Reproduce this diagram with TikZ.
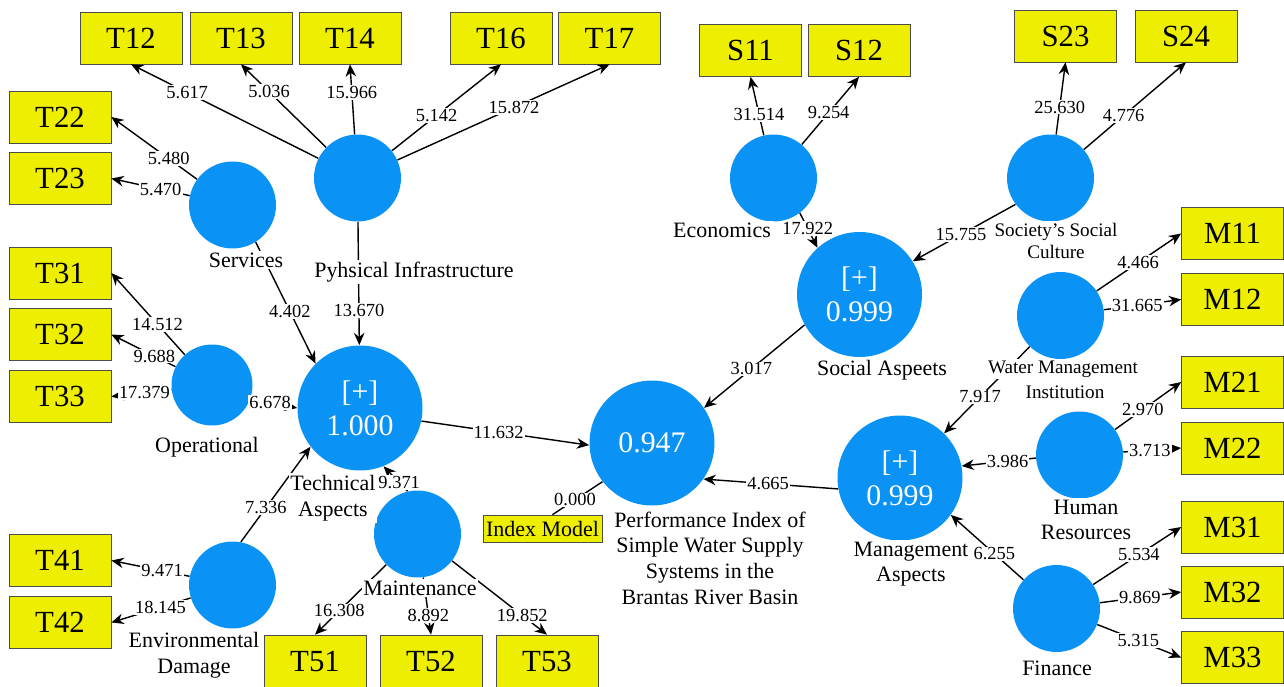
\documentclass[tikz,border=0pt]{standalone}
\usepackage{fontspec}
\setmainfont{Liberation Serif}
\usepackage{tikz}
\usetikzlibrary{arrows.meta}

\definecolor{plsblue}{RGB}{10,146,245}
\definecolor{plsyellow}{RGB}{238,238,0}

\begin{document}
\begin{tikzpicture}[
    x=0.02cm, y=-0.02cm,
    lv/.style={
      circle, fill=plsblue, inner sep=0pt,
      minimum size=1.74cm, text=white, align=center,
      font=\fontsize{17}{19.5}\selectfont},
    lvbig/.style={lv, minimum size=2.5cm},
    ind/.style={
      draw=gray!60!black, fill=plsyellow, inner sep=0pt,
      minimum width=2.04cm, minimum height=1.04cm,
      font=\fontsize{17.5}{20}\selectfont},
    arr/.style={-{Stealth[length=7pt, width=6pt]}, line width=0.8pt},
    val/.style={fill=white, inner sep=0.6pt,
                font=\fontsize{10.5}{12}\selectfont},
    lbl/.style={fill=white, inner sep=1pt, align=center,
                font=\fontsize{12.5}{14.6}\selectfont},
    lblsm/.style={lbl, font=\fontsize{10.9}{13}\selectfont},
]

\useasboundingbox (0, 0) rectangle (1284, 686);

% Column positions
\def\colL{60}
\def\colR{1232.5}

% --- Latent variables ---
\node[lv] (serv)  at (232.5, 205)   {};
\node[lv] (phys)  at (357.5, 178)   {};
\node[lv, minimum size=1.62cm] (oper) at (212, 385) {};
\node[lv] (env)   at (232.5, 585)   {};
\node[lv] (maint) at (417.5, 534)   {};
\node[lv] (econ)  at (773.5, 178)   {};
\node[lv] (soc)   at (1050.5, 178)  {};
\node[lv] (water) at (1060.5, 315.5) {};
\node[lv] (human) at (1079.5, 455)  {};
\node[lv] (fin)   at (1056.5, 608.5) {};

\node[lvbig] (tech)   at (360, 408)   {[+]\\1.000};
\node[lvbig] (social) at (859.5, 294.5) {[+]\\0.999};
\node[lvbig] (mgmt)   at (900, 478)   {[+]\\0.999};
\node[lvbig] (perf)   at (652, 443)   {0.947};

% --- Indicators ---
\node[ind] (t12) at (131, 38)   {T12};
\node[ind] (t13) at (241, 38)   {T13};
\node[ind] (t14) at (350, 38)   {T14};
\node[ind] (t16) at (501, 38)   {T16};
\node[ind] (t17) at (609.5, 38) {T17};
\node[ind] (t22) at (\colL, 117)   {T22};
\node[ind] (t23) at (\colL, 178.5) {T23};
\node[ind] (t31) at (\colL, 273)   {T31};
\node[ind] (t32) at (\colL, 334.5) {T32};
\node[ind] (t33) at (\colL, 396.5) {T33};
\node[ind] (t41) at (\colL, 560.5) {T41};
\node[ind] (t42) at (\colL, 622.5) {T42};
\node[ind] (t51) at (315, 661) {T51};
\node[ind] (t52) at (431, 661) {T52};
\node[ind] (t53) at (547, 661) {T53};
\node[ind] (s11) at (750.5, 50.5) {S11};
\node[ind] (s12) at (859, 50.5)   {S12};
\node[ind] (s23) at (1065.5, 36)  {S23};
\node[ind] (s24) at (1186, 36)    {S24};
\node[ind] (m11) at (\colR, 233.5) {M11};
\node[ind] (m12) at (\colR, 299.5) {M12};
\node[ind] (m21) at (\colR, 382)   {M21};
\node[ind] (m22) at (\colR, 448)   {M22};
\node[ind] (m31) at (\colR, 527)   {M31};
\node[ind] (m32) at (\colR, 592)   {M32};
\node[ind] (m33) at (\colR, 657.5) {M33};

\node[ind, minimum width=2.38cm, minimum height=0.54cm, inner sep=1pt,
      font=\fontsize{12.5}{14}\selectfont] (index) at (542.5, 528.5)
  {Index Model};
\coordinate (idx) at ([xshift=0.2cm]index.north);

% --- Outer loadings ---
\draw[arr] (phys) -- node[val, pos=.70] {5.617} (t12.south);
\draw[arr] (phys) -- node[val, pos=.67] {5.036} (t13.south);
\draw[arr] (phys) -- node[val, pos=.60] {15.966} (t14.south);
\draw[arr] (phys) -- node[val, pos=.41] {5.142} (t16.south);
\draw[arr] (phys) -- node[val, pos=.55] {15.872} (t17.south);

\draw[arr] (serv) -- node[val, pos=.33] {5.480} (t22.east);
\draw[arr] (serv) -- node[val, pos=.37] {5.470} (t23.east);

\draw[arr] (oper) -- node[val, pos=.37] {14.512} (t31.east);
\draw[arr] (oper) -- node[val, pos=.33] {9.688} (t32.east);
\draw[arr] (oper) -- node[val, pos=.45] {17.379} (t33.east);

\draw[arr] (env) -- node[val, pos=.35] {9.471} (t41.east);
\draw[arr] (env) -- node[val, pos=.38] {18.145} (t42.east);

\draw[arr] (maint) -- node[val, pos=.66] {16.308} (t51.north);
\draw[arr] (maint) -- node[val, pos=.66] {8.892} (t52.north);
\draw[arr] (maint) -- node[val, pos=.74] {19.852} (t53.north);

\draw[arr] (econ) -- node[val, pos=.36] {31.514} (s11.south);
\draw[arr] (econ) -- node[val, pos=.47] {9.254} (s12.south);

\draw[arr] (soc) -- node[val, pos=.38] {25.630} (s23.south);
\draw[arr] (soc) -- node[val, pos=.39] {4.776} (s24.south);

\draw[arr] (water) -- node[val, pos=.49] {4.466} (m11.west);
\draw[arr] (water) -- node[val, pos=.43] {31.665} (m12.west);

\draw[arr] (human) -- node[val, pos=.42] {2.970} (m21.west);
\draw[arr] (human) -- node[val, pos=.46] {3.713} (m22.west);

\draw[arr] (fin) -- node[val, pos=.52] {5.534} (m31.west);
\draw[arr] (fin) -- node[val, pos=.49] {9.869} (m32.west);
\draw[arr] (fin) -- node[val, pos=.49] {5.315} (m33.west);

% --- Inner paths ---
\draw[arr] (serv.302) -- node[val, pos=.57] {4.402} (tech.135);
\draw[arr] (phys)     -- node[val, pos=.72] {13.670} (tech);
\draw[arr] (oper.340) -- node[val, pos=.42] {6.678} (tech.180);
\draw[arr] (env.79)   -- node[val, pos=.36] {7.336} (tech.218);
\draw[arr] (maint.103) -- node[val, pos=.35] {9.371} (tech.292);

\draw[arr] (econ.307) -- node[val, pos=.45] {17.922} (social.132);
\draw[arr] (soc.217)  -- node[val, pos=.53] {15.755} (social.32);

\draw[arr] (water) -- node[val, pos=.58] {7.917} (mgmt);
\draw[arr] (human.184) -- node[val, pos=.38] {3.986} (mgmt.11);
\draw[arr] (fin.139)   -- node[val, pos=.40] {6.255} (mgmt.324);

\draw[arr] (tech.348)   -- node[val, pos=.46] {11.632} (perf.182);
\draw[arr] (social.209) -- node[val, pos=.53] {3.017} (perf.34);
\draw[arr] (mgmt.190)   -- node[val, pos=.52] {4.665} (perf.325);
\draw[line width=0.8pt] (idx) -- node[val, pos=.45] {0.000} (perf.218);

% --- Construct names ---
\node[lbl] (servlbl)  at (246, 260)  {Services};
\node[lbl] (physlbl)  at (414, 272)  {Pyhsical Infrastructure};
\node[lbl] (operlbl)  at (207, 447)  {Operational};
\node[lbl] (techlbl)  at (333, 498)  {Technical\\Aspects};
\node[lbl] (envlbl)   at (194, 655)  {Environmental\\Damage};
\node[lbl] (maintlbl) at (420, 588)  {Maintenance};
\node[lbl] (econlbl)  at (722, 230)  {Economics};
\node[lblsm] (soclbl) at (1056, 241) {Society’s Social\\Culture};
\node[lbl] (sociallbl) at (882, 370) {Social Aspeets};
\node[lblsm] (waterlbl)  at (1063, 369) {Water Management};
\node[lblsm] (waterlbl2) at (1065, 392) {Institution};
\node[lbl] (humanlbl) at (1086, 520) {Human\\Resources};
\node[lbl] (mgmtlbl)  at (911, 564)  {Management\\Aspects};
\node[lbl] (finlbl)   at (1057, 668) {Finance};
\node[lbl] (perflbl)  at (710, 558)
  {Performance Index of\\Simple Water Supply\\Systems in the\\Brantas River Basin};

\end{tikzpicture}
\end{document}
